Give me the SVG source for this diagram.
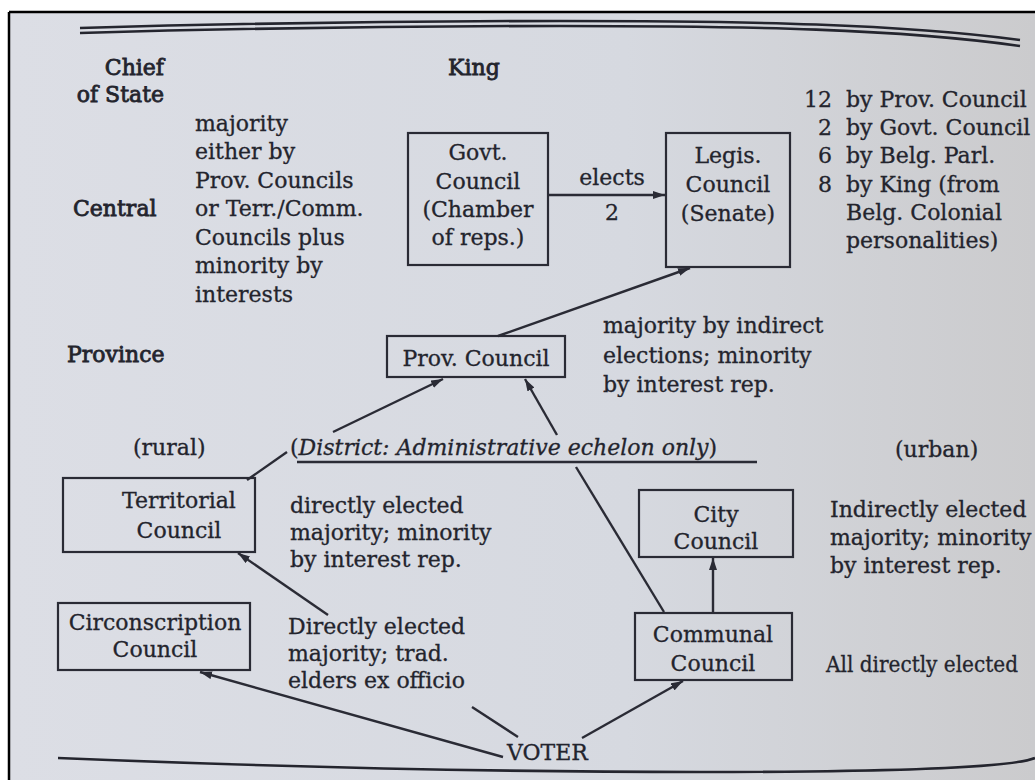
<svg xmlns="http://www.w3.org/2000/svg" width="1035" height="780" viewBox="0 0 1035 780">
<style>
text{font-family:"DejaVu Serif","Liberation Serif",serif;font-size:22px;fill:#23242d;stroke:#23242d;stroke-width:0.3}
.h{stroke-width:0.8}
.c{text-anchor:middle}
.e{text-anchor:end}
.i{font-style:italic}
.box{fill:none;stroke:#2a2b35;stroke-width:2.2}
.ln{fill:none;stroke:#2a2b35;stroke-width:2.4}
.rule{fill:none;stroke:#24252e;stroke-width:2.6}
</style>
<defs>
<linearGradient id="pg" x1="0" y1="0" x2="1" y2="0">
<stop offset="0" stop-color="#dcdee5"/>
<stop offset="0.6" stop-color="#d6d9e0"/>
<stop offset="1" stop-color="#cbcbcd"/>
</linearGradient>
<marker id="ah" markerUnits="userSpaceOnUse" markerWidth="13" markerHeight="9" refX="12" refY="4" orient="auto">
<path d="M0,0 L12,4 L0,8 z" fill="#2a2b35"/>
</marker>
</defs>
<rect width="1035" height="780" fill="#ffffff"/>
<rect x="10" y="13" width="1025" height="767" fill="url(#pg)"/>
<path d="M9,12 H1035 M9,12 V780" stroke="#000" stroke-width="2.5" fill="none"/>
<g id="rules">
<path class="rule" d="M80,28 C250,23 400,21 560,21 C750,21 900,24 1020,40"/>
<path class="rule" d="M80,33 C250,28 400,26 560,26 C750,26 900,29 1020,46"/>
<path class="rule" d="M58,758 Q400,772 700,772 T1035,758" stroke-width="2.2"/>
</g>
<g id="labels">
<text class="h e" x="164" y="75">Chief</text>
<text class="h e" x="164" y="102">of State</text>
<text class="h" x="448" y="75">King</text>
<text class="h" x="73" y="216">Central</text>
<text class="h" x="67" y="362">Province</text>
<text x="133" y="455">(rural)</text>
<text x="290" y="455">(<tspan class="i">District: Administrative echelon only</tspan>)</text>
<path class="ln" d="M297,462 H757" stroke-width="2"/>
<text x="895" y="457">(urban)</text>
</g>
<g id="central-note">
<text x="195" y="131">majority</text>
<text x="195" y="159">either by</text>
<text x="195" y="188">Prov. Councils</text>
<text x="195" y="216">or Terr./Comm.</text>
<text x="195" y="245">Councils plus</text>
<text x="195" y="273">minority by</text>
<text x="195" y="302">interests</text>
</g>
<g id="govt-council">
<rect class="box" x="408" y="133" width="140" height="132"/>
<text class="c" x="478" y="160">Govt.</text>
<text class="c" x="478" y="189">Council</text>
<text class="c" x="478" y="217">(Chamber</text>
<text class="c" x="478" y="245">of reps.)</text>
</g>
<g id="legis-council">
<rect class="box" x="666" y="133" width="124" height="134"/>
<text class="c" x="728" y="163">Legis.</text>
<text class="c" x="728" y="192">Council</text>
<text class="c" x="728" y="221">(Senate)</text>
</g>
<g id="senate-note">
<text class="e" x="832" y="107">12</text>
<text class="e" x="832" y="135">2</text>
<text class="e" x="832" y="163">6</text>
<text class="e" x="832" y="192">8</text>
<text x="846" y="107">by Prov. Council</text>
<text x="846" y="135">by Govt. Council</text>
<text x="846" y="163">by Belg. Parl.</text>
<text x="846" y="192">by King (from</text>
<text x="846" y="220">Belg. Colonial</text>
<text x="846" y="248">personalities)</text>
</g>
<g id="prov-council">
<rect class="box" x="387" y="336" width="178" height="41"/>
<text class="c" x="476" y="366">Prov. Council</text>
</g>
<g id="prov-note">
<text x="603" y="333">majority by indirect</text>
<text x="603" y="363">elections; minority</text>
<text x="603" y="392">by interest rep.</text>
</g>
<g id="territorial-council">
<rect class="box" x="63" y="478" width="192" height="74"/>
<text class="c" x="179" y="508">Territorial</text>
<text class="c" x="179" y="538">Council</text>
</g>
<g id="territorial-note">
<text x="290" y="513">directly elected</text>
<text x="290" y="540">majority; minority</text>
<text x="290" y="567">by interest rep.</text>
</g>
<g id="city-council">
<rect class="box" x="639" y="490" width="154" height="67"/>
<text class="c" x="716" y="522">City</text>
<text class="c" x="716" y="549">Council</text>
</g>
<g id="city-note">
<text x="830" y="517">Indirectly elected</text>
<text x="830" y="545">majority; minority</text>
<text x="830" y="573">by interest rep.</text>
</g>
<g id="circonscription-council">
<rect class="box" x="58" y="603" width="192" height="67"/>
<text class="c" x="155" y="630">Circonscription</text>
<text class="c" x="155" y="657">Council</text>
</g>
<g id="circonscription-note">
<text x="288" y="634">Directly elected</text>
<text x="288" y="661">majority; trad.</text>
<text x="288" y="688">elders ex officio</text>
</g>
<g id="communal-council">
<rect class="box" x="635" y="613" width="157" height="67"/>
<text class="c" x="713" y="642">Communal</text>
<text class="c" x="713" y="671">Council</text>
</g>
<g id="communal-note">
<text x="826" y="672" textLength="192" lengthAdjust="spacingAndGlyphs">All directly elected</text>
</g>
<g id="voter">
<text x="507" y="760">VOTER</text>
</g>
<g id="elects-label">
<text class="c" x="612" y="185">elects</text>
<text class="c" x="612" y="220">2</text>
</g>
<g id="connectors">
<line class="ln" x1="548" y1="195" x2="665" y2="195" marker-end="url(#ah)"/>
<line class="ln" x1="498" y1="336" x2="690" y2="268" marker-end="url(#ah)"/>
<line class="ln" x1="247" y1="480" x2="287" y2="452"/>
<line class="ln" x1="333" y1="432" x2="443" y2="379" marker-end="url(#ah)"/>
<line class="ln" x1="664" y1="612" x2="576" y2="467"/>
<line class="ln" x1="557" y1="435" x2="525" y2="379" marker-end="url(#ah)"/>
<line class="ln" x1="713" y1="612" x2="713" y2="558" marker-end="url(#ah)"/>
<line class="ln" x1="582" y1="738" x2="683" y2="681" marker-end="url(#ah)"/>
<line class="ln" x1="503" y1="757" x2="200" y2="672" marker-end="url(#ah)"/>
<line class="ln" x1="518" y1="737" x2="472" y2="707"/>
<line class="ln" x1="328" y1="615" x2="238" y2="553" marker-end="url(#ah)"/>
</g>
</svg>
